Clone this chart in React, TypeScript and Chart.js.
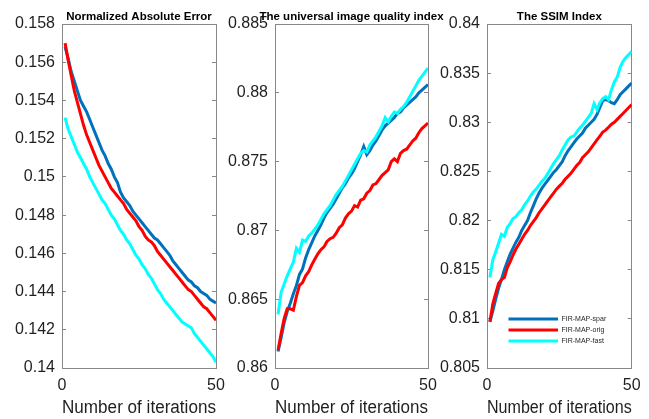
import React, { useEffect, useRef } from 'react';
import { Chart, registerables } from 'chart.js';

Chart.register(...registerables);

const FONT = '"Liberation Sans", Arial, Helvetica, sans-serif';
const TEXT_COLOR = '#1f1f1f';
const BOX_COLOR = '#888888';

// ---------- data ----------
const iterations = [1, 2, 3, 4, 5, 6, 7, 8, 9, 10, 11, 12, 13, 14, 15, 16, 17, 18, 19, 20, 21, 22, 23, 24, 25, 26, 27, 28, 29, 30, 31, 32, 33, 34, 35, 36, 37, 38, 39, 40, 41, 42, 43, 44, 45, 46, 47, 48, 49, 50];
const xTickValues = [0, 50];
const xTickLabels = ['0', '50'];
const xAxisTitle = 'Number of iterations';
const legendLabels = ['FIR-MAP-spar', 'FIR-MAP-orig', 'FIR-MAP-fast'];
const seriesColors = ['#0072BD', '#FF0000', '#00FFFF'];
const panelTitles = ['Normalized Absolute Error', 'The universal image quality index', 'The SSIM Index'];

// Normalized Absolute Error
const naeSpar = [0.1568, 0.1562, 0.1555, 0.1550, 0.1545, 0.1540, 0.1537, 0.1534, 0.1530, 0.1526, 0.1522, 0.1518, 0.1514, 0.1511, 0.1507, 0.1504, 0.1500, 0.1497, 0.1492, 0.1489, 0.1487, 0.1485, 0.1482, 0.1480, 0.1478, 0.1476, 0.1474, 0.1472, 0.1470, 0.1468, 0.1467, 0.1465, 0.1463, 0.1461, 0.1459, 0.1456, 0.1454, 0.1452, 0.1450, 0.1448, 0.1446, 0.1445, 0.1443, 0.1442, 0.1440, 0.1439, 0.1438, 0.1436, 0.1435, 0.1434];
const naeOrig = [0.1570, 0.1561, 0.1553, 0.1545, 0.1539, 0.1533, 0.1527, 0.1522, 0.1518, 0.1514, 0.1510, 0.1506, 0.1503, 0.1500, 0.1497, 0.1494, 0.1492, 0.1490, 0.1488, 0.1486, 0.1483, 0.1481, 0.1479, 0.1477, 0.1474, 0.1472, 0.1469, 0.1467, 0.1466, 0.1464, 0.1461, 0.1459, 0.1457, 0.1455, 0.1453, 0.1451, 0.1449, 0.1447, 0.1445, 0.1443, 0.1441, 0.1440, 0.1438, 0.1436, 0.1434, 0.1432, 0.1431, 0.1429, 0.1427, 0.1425];
const naeFast = [0.1531, 0.1525, 0.1521, 0.1517, 0.1513, 0.1510, 0.1507, 0.1504, 0.1500, 0.1497, 0.1494, 0.1491, 0.1488, 0.1486, 0.1483, 0.1480, 0.1478, 0.1475, 0.1472, 0.1470, 0.1467, 0.1465, 0.1462, 0.1459, 0.1457, 0.1454, 0.1452, 0.1449, 0.1447, 0.1444, 0.1441, 0.1439, 0.1436, 0.1434, 0.1432, 0.1430, 0.1428, 0.1426, 0.1424, 0.1423, 0.1422, 0.1421, 0.1418, 0.1416, 0.1414, 0.1412, 0.1410, 0.1408, 0.1406, 0.1403];
const naeTicks = [0.14, 0.142, 0.144, 0.146, 0.148, 0.15, 0.152, 0.154, 0.156, 0.158];
const naeTickLabels = ['0.14', '0.142', '0.144', '0.146', '0.148', '0.15', '0.152', '0.154', '0.156', '0.158'];

// Universal image quality index
const uiqiSpar = [0.8612, 0.8622, 0.8633, 0.8641, 0.8647, 0.8654, 0.8660, 0.8668, 0.8672, 0.8680, 0.8686, 0.8691, 0.8696, 0.8700, 0.8704, 0.8709, 0.8713, 0.8716, 0.8719, 0.8723, 0.8727, 0.8731, 0.8734, 0.8738, 0.8741, 0.8745, 0.8750, 0.8755, 0.8761, 0.8755, 0.8758, 0.8762, 0.8765, 0.8769, 0.8773, 0.8776, 0.8778, 0.8780, 0.8782, 0.8785, 0.8786, 0.8789, 0.8791, 0.8793, 0.8795, 0.8797, 0.8800, 0.8802, 0.8804, 0.8806];
const uiqiOrig = [0.8613, 0.8625, 0.8636, 0.8643, 0.8643, 0.8642, 0.8652, 0.8660, 0.8662, 0.8667, 0.8670, 0.8675, 0.8679, 0.8683, 0.8686, 0.8688, 0.8692, 0.8694, 0.8695, 0.8698, 0.8702, 0.8704, 0.8709, 0.8712, 0.8714, 0.8718, 0.8717, 0.8722, 0.8723, 0.8727, 0.8729, 0.8733, 0.8734, 0.8737, 0.8740, 0.8742, 0.8744, 0.8750, 0.8752, 0.8750, 0.8756, 0.8758, 0.8759, 0.8762, 0.8765, 0.8767, 0.8771, 0.8774, 0.8776, 0.8778];
const uiqiFast = [0.8639, 0.8655, 0.8661, 0.8667, 0.8672, 0.8677, 0.8687, 0.8684, 0.8693, 0.8692, 0.8696, 0.8698, 0.8701, 0.8704, 0.8708, 0.8712, 0.8715, 0.8718, 0.8722, 0.8726, 0.8729, 0.8732, 0.8736, 0.8740, 0.8744, 0.8748, 0.8752, 0.8756, 0.8758, 0.8757, 0.8762, 0.8765, 0.8768, 0.8772, 0.8776, 0.8782, 0.8779, 0.8783, 0.8786, 0.8785, 0.8788, 0.8790, 0.8793, 0.8797, 0.8801, 0.8805, 0.8809, 0.8812, 0.8815, 0.8818];
const uiqiTicks = [0.86, 0.865, 0.87, 0.875, 0.88, 0.885];
const uiqiTickLabels = ['0.86', '0.865', '0.87', '0.875', '0.88', '0.885'];

// SSIM index
const ssimSpar = [0.8097, 0.8108, 0.8120, 0.8131, 0.8140, 0.8150, 0.8158, 0.8166, 0.8172, 0.8178, 0.8183, 0.8190, 0.8195, 0.8200, 0.8208, 0.8215, 0.8222, 0.8228, 0.8233, 0.8237, 0.8241, 0.8245, 0.8249, 0.8252, 0.8256, 0.8260, 0.8266, 0.8271, 0.8275, 0.8279, 0.8283, 0.8286, 0.8289, 0.8294, 0.8297, 0.8300, 0.8303, 0.8308, 0.8315, 0.8322, 0.8323, 0.8322, 0.8320, 0.8319, 0.8323, 0.8328, 0.8331, 0.8334, 0.8337, 0.8340];
const ssimOrig = [0.8097, 0.8115, 0.8126, 0.8136, 0.8140, 0.8142, 0.8152, 0.8158, 0.8165, 0.8171, 0.8176, 0.8181, 0.8186, 0.8190, 0.8195, 0.8199, 0.8203, 0.8208, 0.8212, 0.8216, 0.8220, 0.8224, 0.8228, 0.8232, 0.8235, 0.8238, 0.8242, 0.8245, 0.8248, 0.8252, 0.8256, 0.8259, 0.8264, 0.8267, 0.8270, 0.8274, 0.8278, 0.8282, 0.8286, 0.8290, 0.8292, 0.8295, 0.8298, 0.8300, 0.8303, 0.8306, 0.8309, 0.8312, 0.8315, 0.8318];
const ssimFast = [0.8142, 0.8160, 0.8168, 0.8177, 0.8186, 0.8184, 0.8193, 0.8197, 0.8202, 0.8204, 0.8208, 0.8211, 0.8216, 0.8220, 0.8225, 0.8229, 0.8232, 0.8236, 0.8240, 0.8243, 0.8248, 0.8253, 0.8258, 0.8262, 0.8266, 0.8272, 0.8277, 0.8282, 0.8285, 0.8286, 0.8290, 0.8294, 0.8297, 0.8301, 0.8305, 0.8309, 0.8319, 0.8313, 0.8320, 0.8324, 0.8326, 0.8323, 0.8333, 0.8341, 0.8346, 0.8356, 0.8362, 0.8366, 0.8369, 0.8372];
const ssimTicks = [0.805, 0.81, 0.815, 0.82, 0.825, 0.83, 0.835, 0.84];
const ssimTickLabels = ['0.805', '0.81', '0.815', '0.82', '0.825', '0.83', '0.835', '0.84'];

// ---------- layout (pixels) ----------
const W = 649;
const H = 419;
const Y_AXIS_W = 50;
const PLOT_TOP = 24;
const X_AXIS_H = 51;

const panels = [
  { title: panelTitles[0], series: [naeSpar, naeOrig, naeFast], ticks: naeTicks, tickLabels: naeTickLabels, left: 62, right: 216, legend: false },
  { title: panelTitles[1], series: [uiqiSpar, uiqiOrig, uiqiFast], ticks: uiqiTicks, tickLabels: uiqiTickLabels, left: 275, right: 428, legend: false },
  { title: panelTitles[2], series: [ssimSpar, ssimOrig, ssimFast], ticks: ssimTicks, tickLabels: ssimTickLabels, left: 487, right: 641, legend: true },
];

function makeTitlePlugin(text: string) {
  return {
    id: 'panelTitle',
    afterDraw(chart: any) {
      const { ctx, chartArea } = chart;
      ctx.save();
      ctx.font = `bold 11.5px ${FONT}`;
      ctx.fillStyle = '#000';
      ctx.textAlign = 'center';
      ctx.textBaseline = 'alphabetic';
      ctx.fillText(text, (chartArea.left + chartArea.right) / 2, chartArea.top - 3.7);
      ctx.restore();
    },
  };
}

const legendPlacer = {
  id: 'legendPlacer',
  afterLayout(chart: any) {
    const lg = chart.legend;
    if (!lg) return;
    const ca = chart.chartArea;
    lg.left = ca.left + 17.5;
    lg.right = ca.right;
    lg.top = ca.bottom - 56.5;
    lg.bottom = ca.bottom;
    lg.width = lg.right - lg.left;
    lg.height = lg.bottom - lg.top;
  },
};

function makeConfig(p: any): any {
  const tickFont = { family: FONT, size: 16 };
  const setYTicks = (s: any) => {
    s.ticks = p.ticks.map((v: number) => ({ value: v }));
  };
  const setXTicks = (s: any) => {
    s.ticks = xTickValues.map((v) => ({ value: v }));
  };
  return {
    type: 'line',
    data: {
      labels: iterations,
      datasets: p.series.map((s: number[], i: number) => ({
        label: legendLabels[i],
        data: s,
        borderColor: seriesColors[i],
        backgroundColor: seriesColors[i],
        borderWidth: 3,
        pointRadius: 0,
        tension: 0,
        fill: false,
        order: 3 - i,
        xAxisID: 'x',
        yAxisID: 'y',
      })),
    },
    options: {
      responsive: false,
      animation: false,
      events: [],
      layout: { padding: { left: p.left - Y_AXIS_W, right: W - p.right, top: PLOT_TOP, bottom: 0 } },
      scales: {
        x: {
          type: 'linear',
          position: 'bottom',
          min: xTickValues[0],
          max: xTickValues[xTickValues.length - 1],
          afterBuildTicks: setXTicks,
          ticks: {
            callback: (_v: any, i: number) => xTickLabels[i],
            font: tickFont,
            color: TEXT_COLOR,
            padding: 8.4,
            maxRotation: 0,
            autoSkip: false,
          },
          grid: { drawOnChartArea: false, drawTicks: false },
          border: { display: true, color: BOX_COLOR, width: 1 },
          title: { display: true, text: xAxisTitle, font: { family: FONT, size: 17.6 }, color: TEXT_COLOR, padding: { top: 0, bottom: 0 } },
          afterFit: (s: any) => {
            s.height = X_AXIS_H;
          },
        },
        xTop: {
          type: 'linear',
          position: 'top',
          min: xTickValues[0],
          max: xTickValues[xTickValues.length - 1],
          ticks: { display: false },
          grid: { drawOnChartArea: false, drawTicks: false },
          border: { display: true, color: BOX_COLOR, width: 1 },
          afterFit: (s: any) => {
            s.height = 0;
          },
        },
        y: {
          type: 'linear',
          position: 'left',
          min: p.ticks[0],
          max: p.ticks[p.ticks.length - 1],
          afterBuildTicks: setYTicks,
          ticks: {
            callback: (_v: any, i: number) => p.tickLabels[i],
            font: tickFont,
            color: TEXT_COLOR,
            padding: 11,
            autoSkip: false,
          },
          grid: { drawOnChartArea: false, drawTicks: true, tickLength: -4, color: BOX_COLOR },
          border: { display: true, color: BOX_COLOR, width: 1 },
          afterFit: (s: any) => {
            s.width = Y_AXIS_W;
          },
        },
        yRight: {
          type: 'linear',
          position: 'right',
          min: p.ticks[0],
          max: p.ticks[p.ticks.length - 1],
          afterBuildTicks: setYTicks,
          ticks: { display: false },
          grid: { drawOnChartArea: false, drawTicks: true, tickLength: -4, color: BOX_COLOR },
          border: { display: true, color: BOX_COLOR, width: 1 },
          afterFit: (s: any) => {
            s.width = 0;
          },
        },
      },
      plugins: {
        title: { display: false },
        tooltip: { enabled: false },
        legend: {
          display: p.legend,
          position: 'chartArea',
          align: 'start',
          labels: {
            boxWidth: 49.5,
            boxHeight: 0,
            padding: 4,
            font: { family: FONT, size: 7 },
            color: TEXT_COLOR,
            sort: (a: any, b: any) => a.datasetIndex - b.datasetIndex,
          },
        },
      },
    },
    plugins: [makeTitlePlugin(p.title), legendPlacer],
  };
}

function Panel({ p }: { p: any }) {
  const ref = useRef<HTMLCanvasElement | null>(null);
  useEffect(() => {
    if (!ref.current) return;
    const chart = new Chart(ref.current, makeConfig(p));
    return () => chart.destroy();
  }, [p]);
  return (
    <canvas
      ref={ref}
      width={W}
      height={H}
      style={{ position: 'absolute', left: 0, top: 0, width: W, height: H }}
    />
  );
}

export default function App() {
  return (
    <div style={{ position: 'fixed', left: 0, top: 0, width: W, height: H, background: '#fff' }}>
      {panels.map((p, i) => (
        <Panel key={i} p={p} />
      ))}
    </div>
  );
}
